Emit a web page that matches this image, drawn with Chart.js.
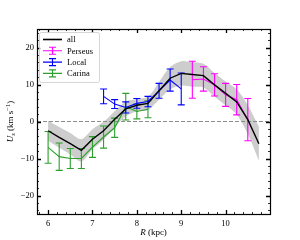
<!DOCTYPE html>
<html>
<head>
<meta charset="utf-8">
<script src="https://cdn.jsdelivr.net/npm/chart.js@4/dist/chart.umd.min.js"></script>
<style>
  body { margin: 0; background: #fff; }
</style>
</head>
<body>
<canvas id="chart" width="300" height="240"></canvas>
<script>
// "all" curve with its uncertainty band
const allR = [6.0, 6.25, 6.5, 6.75, 7.0, 7.25, 7.5, 7.75, 8.0, 8.25, 8.5, 8.75, 9.0, 9.25, 9.5, 9.75, 10.0, 10.25, 10.5, 10.75];
const allU = [-2.5, -4.3, -6.0, -7.8, -4.8, -2.5, 0.6, 3.4, 4.4, 4.9, 8.3, 11.7, 13.0, 12.7, 12.4, 9.9, 7.6, 5.3, 0.5, -6.0];
const allErr = [2.7, 2.8, 2.9, 3.0, 2.7, 2.4, 2.2, 2.0, 1.7, 1.8, 2.4, 3.0, 3.3, 3.3, 3.2, 3.2, 3.2, 3.4, 3.9, 4.6];

// arms
const perseusR = [9.25, 9.5, 9.75, 10.0, 10.25, 10.5];
const perseusU = [11.3, 11.5, 9.9, 7.2, 5.9, 0.5];
const perseusErr = [5.0, 3.3, 3.0, 3.1, 4.1, 5.7];

const localR = [7.25, 7.5, 7.75, 8.0, 8.25, 8.5, 8.75, 9.0];
const localU = [6.8, 4.7, 3.8, 4.9, 5.4, 8.3, 11.2, 8.8];
const localErr = [2.0, 1.2, 1.5, 1.3, 1.4, 2.0, 3.0, 4.3];

const carinaR = [6.0, 6.25, 6.5, 6.75, 7.0, 7.25, 7.5, 7.75, 8.0, 8.25];
const carinaU = [-7.0, -9.5, -10.0, -10.0, -6.9, -4.2, -1.7, 4.0, 2.7, 3.3];
const carinaErr = [4.3, 3.7, 2.7, 2.7, 2.8, 3.0, 2.6, 3.6, 2.0, 2.3];

const xTicks = [6, 7, 8, 9, 10];
const yTicks = [-20, -10, 0, 10, 20];

const FONT = '"Liberation Serif", "DejaVu Serif", serif';
const BLUE = '#0000ff', MAGENTA = '#ff00ff', GREEN = '#2ca02c', BAND = '#cdcdcd';

function pts(xs, ys) {
    return xs.map((x, i) => ({ x: x, y: ys[i] }));
}

let legendItems = [
    { label: 'all', color: 'black', bar: false },
    { label: 'Perseus', color: MAGENTA, bar: true },
    { label: 'Local', color: BLUE, bar: true },
    { label: 'Carina', color: GREEN, bar: true },
];

// error bars, dashed zero line, ticks, frame, legend and axis titles
const decor = {
    id: 'decor',
    afterDatasetDraw(chart, args) {
        const ds = chart.data.datasets[args.index];
        const ctx = chart.ctx;
        const xs = chart.scales.x, ys = chart.scales.y;
        if (ds.zeroLine) {
            ctx.save();
            ctx.strokeStyle = '#8c8c8c';
            ctx.lineWidth = 1.2;
            ctx.setLineDash([4, 2]);
            let y0 = ys.getPixelForValue(0);
            ctx.beginPath();
            ctx.moveTo(chart.chartArea.left, y0);
            ctx.lineTo(chart.chartArea.right, y0);
            ctx.stroke();
            ctx.restore();
        }
        if (ds.errs) {
            ctx.save();
            ctx.strokeStyle = ds.borderColor;
            ctx.lineWidth = 1.1;
            ds.data.forEach((p, i) => {
                let px = xs.getPixelForValue(p.x);
                let top = ys.getPixelForValue(p.y + ds.errs[i]);
                let bot = ys.getPixelForValue(p.y - ds.errs[i]);
                ctx.beginPath();
                ctx.moveTo(px, top); ctx.lineTo(px, bot);
                ctx.moveTo(px - 3.5, top); ctx.lineTo(px + 3.5, top);
                ctx.moveTo(px - 3.5, bot); ctx.lineTo(px + 3.5, bot);
                ctx.stroke();
            });
            ctx.restore();
        }
    },
    afterDraw(chart) {
        const ctx = chart.ctx;
        const a = chart.chartArea;
        const xs = chart.scales.x, ys = chart.scales.y;
        ctx.save();
        ctx.strokeStyle = 'black';
        // minor ticks
        ctx.lineWidth = 0.8;
        ctx.beginPath();
        for (let v = 5.8; v < 11; v += 0.2) {
            let px = Math.round(xs.getPixelForValue(v)) + 0.5;
            ctx.moveTo(px, a.bottom); ctx.lineTo(px, a.bottom - 2);
            ctx.moveTo(px, a.top); ctx.lineTo(px, a.top + 2);
        }
        for (let v = -24; v <= 24; v += 2) {
            let py = Math.round(ys.getPixelForValue(v)) + 0.5;
            ctx.moveTo(a.left, py); ctx.lineTo(a.left + 2, py);
            ctx.moveTo(a.right, py); ctx.lineTo(a.right - 2, py);
        }
        ctx.stroke();
        // major ticks
        ctx.lineWidth = 1.3;
        ctx.beginPath();
        xTicks.forEach(v => {
            let px = Math.round(xs.getPixelForValue(v)) + 0.5;
            ctx.moveTo(px, a.bottom); ctx.lineTo(px, a.bottom - 4);
            ctx.moveTo(px, a.top); ctx.lineTo(px, a.top + 4);
        });
        yTicks.forEach(v => {
            let py = Math.round(ys.getPixelForValue(v)) + 0.5;
            ctx.moveTo(a.left, py); ctx.lineTo(a.left + 4, py);
            ctx.moveTo(a.right, py); ctx.lineTo(a.right - 4, py);
        });
        ctx.stroke();
        // frame
        ctx.lineWidth = 1.2;
        ctx.strokeRect(a.left + 0.5, a.top + 0.5, a.right - a.left, a.bottom - a.top);

        // legend
        let lx = 39, ly = 32, lw = 60, lh = 50;
        ctx.fillStyle = 'rgba(255,255,255,0.8)';
        ctx.strokeStyle = '#cccccc';
        ctx.lineWidth = 0.8;
        ctx.beginPath();
        ctx.roundRect(lx + 0.5, ly + 0.5, lw, lh, 2);
        ctx.fill();
        ctx.stroke();
        ctx.font = '8.5px ' + FONT;
        ctx.textBaseline = 'middle';
        ctx.textAlign = 'left';
        legendItems.forEach((it, i) => {
            let y = ly + 7.5 + i * 11.3;
            ctx.strokeStyle = it.color;
            ctx.lineWidth = it.bar ? 1.1 : 1.6;
            ctx.beginPath();
            ctx.moveTo(43, y); ctx.lineTo(62, y);
            if (it.bar) {
                ctx.moveTo(52.5, y - 3.5); ctx.lineTo(52.5, y + 3.5);
                ctx.moveTo(49, y - 3.5); ctx.lineTo(56, y - 3.5);
                ctx.moveTo(49, y + 3.5); ctx.lineTo(56, y + 3.5);
            }
            ctx.stroke();
            ctx.fillStyle = 'black';
            ctx.fillText(it.label, 67, y + 0.5);
        });

        // x title
        ctx.fillStyle = 'black';
        ctx.textBaseline = 'alphabetic';
        let it1 = 'italic 9px ' + FONT, rm = '9px ' + FONT;
        ctx.font = it1;
        let wR = ctx.measureText('R').width;
        ctx.font = rm;
        let wK = ctx.measureText(' (kpc)').width;
        let x0 = (a.left + a.right) / 2 - (wR + wK) / 2;
        ctx.font = it1; ctx.fillText('R', x0, 235);
        ctx.font = rm; ctx.fillText(' (kpc)', x0 + wR, 235);

        // y title, rotated
        ctx.save();
        ctx.translate(13, (a.top + a.bottom) / 2);
        ctx.rotate(-Math.PI / 2);
        let parts = [
            { t: 'U', f: it1, dy: 0 },
            { t: 's', f: 'italic 6.5px ' + FONT, dy: 2 },
            { t: ' (km s', f: rm, dy: 0 },
            { t: '\u22121', f: '6.5px ' + FONT, dy: -3.5 },
            { t: ')', f: rm, dy: 0 },
        ];
        let tot = 0;
        parts.forEach(p => { ctx.font = p.f; p.w = ctx.measureText(p.t).width; tot += p.w; });
        let cx = -tot / 2;
        parts.forEach(p => { ctx.font = p.f; ctx.fillText(p.t, cx, p.dy); cx += p.w; });
        ctx.restore();
        ctx.restore();
    }
};

const allLow = allU.map((u, i) => u - allErr[i]);
const allHigh = allU.map((u, i) => u + allErr[i]);

const ctx = document.getElementById('chart');
new Chart(ctx, {
    type: 'line',
    data: {
        datasets: [
            { label: 'band low', data: pts(allR, allLow), borderWidth: 0, pointRadius: 0, fill: false, order: 10, tension: 0.3 },
            { label: 'band high', data: pts(allR, allHigh), borderWidth: 0, pointRadius: 0, backgroundColor: BAND, fill: '-1', order: 9, zeroLine: true, tension: 0.3 },
            { label: 'Carina', data: pts(carinaR, carinaU), errs: carinaErr, borderColor: GREEN, borderWidth: 1.1, pointRadius: 0, fill: false, order: 4 },
            { label: 'Local', data: pts(localR, localU), errs: localErr, borderColor: BLUE, borderWidth: 1.1, pointRadius: 0, fill: false, order: 3 },
            { label: 'Perseus', data: pts(perseusR, perseusU), errs: perseusErr, borderColor: MAGENTA, borderWidth: 1.1, pointRadius: 0, fill: false, order: 2 },
            { label: 'all', data: pts(allR, allU), borderColor: 'black', borderWidth: 1.4, pointRadius: 0, fill: false, order: 0 },
        ],
    },
    options: {
        responsive: false,
        animation: false,
        events: [],
        layout: { padding: { left: 0, right: 30, top: 29, bottom: 0 } },
        plugins: { legend: { display: false }, tooltip: { enabled: false } },
        scales: {
            x: {
                type: 'linear',
                min: 5.75,
                max: 11,
                afterBuildTicks: (s) => { s.ticks = xTicks.map(v => ({ value: v })); },
                afterFit: (s) => { s.height = 26; },
                grid: { display: false, drawTicks: false },
                border: { display: false },
                ticks: { color: 'black', padding: 5, maxRotation: 0, font: { family: FONT, size: 8.5 } },
            },
            y: {
                type: 'linear',
                min: -25,
                max: 25,
                afterBuildTicks: (s) => { s.ticks = yTicks.map(v => ({ value: v })); },
                afterFit: (s) => { s.width = 37; },
                grid: { display: false, drawTicks: false },
                border: { display: false },
                ticks: {
                    color: 'black', padding: 3, font: { family: FONT, size: 8.5 },
                    callback: (v) => String(v).replace('-', '\u2212'),
                },
            },
        },
    },
    plugins: [decor],
});
</script>
</body>
</html>
